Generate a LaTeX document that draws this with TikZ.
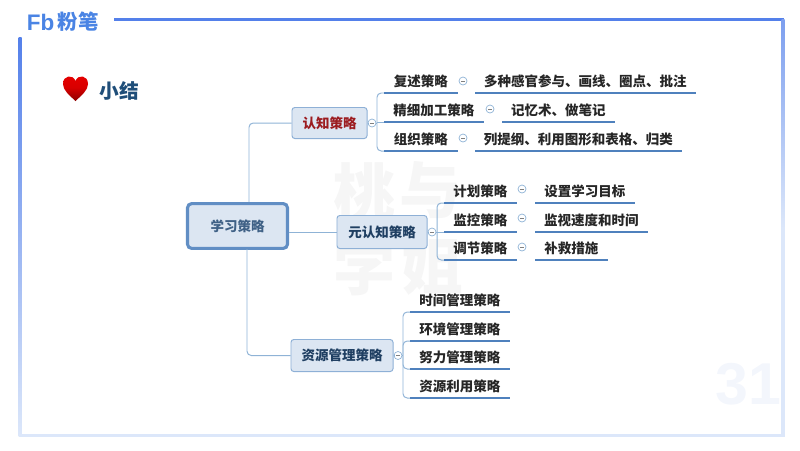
\documentclass[tikz,border=0pt]{standalone}
\usepackage{fontspec}
\setmainfont{Noto Sans CJK SC}
\newfontfamily\logofont{Liberation Sans}
\usetikzlibrary{positioning}

\begin{document}
\begin{tikzpicture}[x=0.025cm,y=-0.025cm]
    \definecolor{framedark}{HTML}{5480EA}
    \definecolor{framelight}{HTML}{DCE7FA}
    \definecolor{logoblue}{HTML}{4A84E4}
    \definecolor{linkblue}{HTML}{8FB3D6}
    \definecolor{underblue}{HTML}{4F81BD}
    \definecolor{boxfill}{HTML}{DCE6F2}
    \definecolor{boxline}{HTML}{8EB0D6}
    \definecolor{navytext}{HTML}{1F3F62}
    \definecolor{roottext}{HTML}{3F6186}
    \definecolor{titletext}{HTML}{1F4E79}
    \definecolor{redtext}{HTML}{9C1C20}
    \definecolor{marktext}{HTML}{F6F6F6}
    \definecolor{marknum}{HTML}{F3F6FC}
    \tikzstyle{every node}=[font=\bfseries\fontsize{9.6pt}{11pt}\selectfont]
    \tikzstyle{topicbox}=[draw=boxline,fill=boxfill,line width=0.7pt,rounded corners=2pt,inner sep=0pt,text=navytext]
    \tikzstyle{leaf}=[inner sep=0pt,minimum height=0.55cm,anchor=south west,text=black!85]
    \tikzstyle{link}=[draw=linkblue,line width=0.7pt,rounded corners=3pt]
    \tikzstyle{underline}=[draw=underblue,line width=1.4pt]
    \tikzstyle{toggle}=[circle,draw=linkblue,fill=white,line width=0.5pt,inner sep=0pt,minimum size=0.2cm,
        path picture={\draw[black!50,line width=0.4pt] ([xshift=-0.05cm]path picture bounding box.center) -- ([xshift=0.05cm]path picture bounding box.center);}]
    \tikzstyle{mark text}=[text=marktext,font=\bfseries\fontsize{44pt}{44pt}\selectfont]
    \useasboundingbox (0,0) rectangle (800,450);

    \node[mark text] (markA) at (364,192) {桃};
    \node[mark text] (markB) at (430,190) {与};
    \node[mark text] (markC) at (364,266) {学};
    \node[mark text] (markD) at (432,266) {姐};
    \node[text=marknum,font=\logofont\bfseries\fontsize{42pt}{42pt}\selectfont] (markE) at (748,384) {31};

    \fill[framedark] (114,17.5) rectangle (784,20.5);
    \shade[top color=framedark,bottom color=framelight] (18.5,37) rectangle (21.5,436);
    \shade[top color=framedark!70!framelight,bottom color=framelight,middle color=framelight] (781.5,19) rectangle (784.5,436);
    \fill[framelight] (18.5,433.5) rectangle (784.5,436.5);

    \node[text=logoblue,font=\logofont\bfseries\fontsize{16pt}{16pt}\selectfont] (logoA) at (40.5,22) {Fb};
    \node[text=logoblue,font=\bfseries\fontsize{14.5pt}{15pt}\selectfont] (logoB) at (78,22) {粉笔};

    \shade[top color=red!90!black,bottom color=red!55!black,middle color=red!85!black]
        (75.5,101) .. controls (69,95) and (63,90) .. (63,84)
        .. controls (63,75) and (73,74) .. (75.5,81)
        .. controls (78,74) and (88,75) .. (88,84)
        .. controls (88,90) and (82,95) .. (75.5,101) -- cycle;
    \node[text=titletext,font=\bfseries\fontsize{14pt}{15pt}\selectfont] (title) at (119,90.5) {小结};

    \node[topicbox,draw=underblue!90,line width=2.2pt,rounded corners=3pt,minimum width=2.5cm,minimum height=1.12cm,text=roottext] (study) at (237.5,226) {学习策略};
    \node[topicbox,minimum width=1.875cm,minimum height=0.775cm,text=redtext] (cognition) at (329.5,123) {认知策略};
    \node[topicbox,minimum width=2.25cm,minimum height=0.825cm] (meta) at (382,232) {元认知策略};
    \node[topicbox,minimum width=2.55cm,minimum height=0.8cm] (resource) at (342,355.5) {资源管理策略};

    \coordinate (studyup) at (249,202);
    \coordinate (studydown) at (247,249);
    \draw[link] (studyup) |- (cognition.west);
    \draw[link] (studydown) |- (resource.west);
    \draw[link] (study.east |- meta.west) -- (meta.west);

    \node[toggle] (togcog) at (372,123) {};
    \node[toggle] (togmeta) at (432,232) {};
    \node[toggle] (togres) at (398,355.5) {};
    \draw[link] (cognition.east) -- (togcog);
    \draw[link] (meta.east) -- (togmeta);
    \draw[link] (resource.east) -- (togres);

    \node[leaf,minimum width=1.825cm] (rehearse) at (384,93) {复述策略};
    \node[leaf,minimum width=2.475cm] (elaborate) at (384,122) {精细加工策略};
    \node[leaf,minimum width=1.825cm] (organize) at (384,151) {组织策略};
    \node[leaf,minimum width=5.5cm] (rehearsetip) at (475,93) {多种感官参与、画线、圈点、批注};
    \node[leaf,minimum width=2.8cm] (elaboratetip) at (502,122) {记忆术、做笔记};
    \node[leaf,minimum width=5.15cm] (organizetip) at (475,151) {列提纲、利用图形和表格、归类};
    \node[toggle] (togA) at (463,81) {};
    \node[toggle] (togB) at (490,109) {};
    \node[toggle] (togC) at (463,138) {};

    \node[leaf,minimum width=1.8cm] (plan) at (444,203) {计划策略};
    \node[leaf,minimum width=1.8cm] (monitor) at (444,232) {监控策略};
    \node[leaf,minimum width=1.8cm] (adjust) at (444,260) {调节策略};
    \node[leaf,minimum width=2.475cm] (plantip) at (535,203) {设置学习目标};
    \node[leaf,minimum width=2.8cm] (monitortip) at (535,232) {监视速度和时间};
    \node[leaf,minimum width=1.8cm] (adjusttip) at (535,260) {补救措施};
    \node[toggle] (togD) at (522,189) {};
    \node[toggle] (togE) at (522,218) {};
    \node[toggle] (togF) at (522,247) {};

    \node[leaf,minimum width=2.475cm] (time) at (410,312) {时间管理策略};
    \node[leaf,minimum width=2.475cm] (environment) at (410,341) {环境管理策略};
    \node[leaf,minimum width=2.475cm] (effort) at (410,369) {努力管理策略};
    \node[leaf,minimum width=2.475cm] (utilize) at (410,398) {资源利用策略};

    \coordinate (forkcog) at (377,122);
    \coordinate (forkmeta) at (437,232);
    \coordinate (forkres) at (403,355.5);
    \draw[link] (togcog) -- (forkcog |- togcog);
    \draw[link] (togmeta) -- (forkmeta);
    \draw[link] (togres) -- (forkres);
    \draw[link] (forkcog) |- (rehearse.south west);
    \draw[link] (forkcog) -- (elaborate.south west);
    \draw[link] (forkcog) |- (organize.south west);
    \draw[link] (forkmeta) |- (plan.south west);
    \draw[link] (forkmeta) -- (monitor.south west);
    \draw[link] (forkmeta) |- (adjust.south west);
    \draw[link] (forkres) |- (time.south west);
    \draw[link] (forkres) |- (environment.south west);
    \draw[link] (forkres) |- (effort.south west);
    \draw[link] (forkres) |- (utilize.south west);

    \draw[underline] (rehearse.south west) -- (rehearse.south east);
    \draw[underline] (elaborate.south west) -- (elaborate.south east);
    \draw[underline] (organize.south west) -- (organize.south east);
    \draw[underline] (rehearsetip.south west) -- (rehearsetip.south east);
    \draw[underline] (elaboratetip.south west) -- (elaboratetip.south east);
    \draw[underline] (organizetip.south west) -- (organizetip.south east);
    \draw[underline] (plan.south west) -- (plan.south east);
    \draw[underline] (monitor.south west) -- (monitor.south east);
    \draw[underline] (adjust.south west) -- (adjust.south east);
    \draw[underline] (plantip.south west) -- (plantip.south east);
    \draw[underline] (monitortip.south west) -- (monitortip.south east);
    \draw[underline] (adjusttip.south west) -- (adjusttip.south east);
    \draw[underline] (time.south west) -- (time.south east);
    \draw[underline] (environment.south west) -- (environment.south east);
    \draw[underline] (effort.south west) -- (effort.south east);
    \draw[underline] (utilize.south west) -- (utilize.south east);
\end{tikzpicture}
\end{document}
